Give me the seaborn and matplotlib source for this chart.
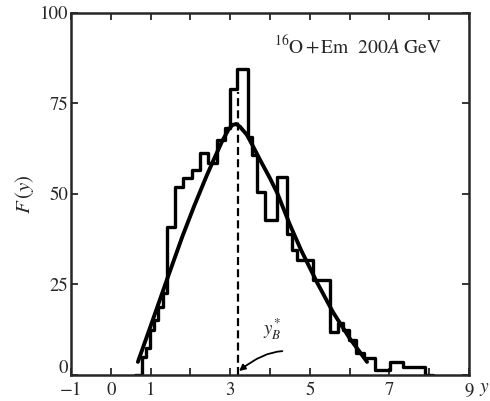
import numpy as np
import matplotlib
matplotlib.use('Agg')
from matplotlib import pyplot as plt
from matplotlib.transforms import ScaledTranslation
import seaborn as sns

# histogram: bin edges (rapidity y) and heights F(y)
hist_edges = [0.60, 0.78, 0.88, 0.98, 1.09, 1.19, 1.31, 1.41, 1.61, 1.81, 2.04,
              2.24, 2.44, 2.67, 2.87, 2.99, 3.18, 3.45, 3.55, 3.67, 3.87, 4.18,
              4.43, 4.55, 4.68, 5.08, 5.51, 5.71, 5.83, 5.98, 6.16, 6.36, 6.64,
              7.01, 7.34, 7.89, 8.10]
hist_heights = [0, 5.0, 7.5, 12.4, 15.2, 18.8, 22.7, 40.9, 51.9, 54.4, 56.6,
                61.3, 58.6, 64.9, 68.2, 79.0, 84.5, 65.7, 60.8, 50.6, 42.8, 54.7,
                39.0, 34.5, 31.8, 26.2, 11.9, 14.4, 12.4, 9.7, 6.1, 4.7, 1.4,
                3.6, 2.2, 0]

# fitted curve, points
curve_x = [0.68, 1.00, 1.40, 1.80, 2.10, 2.40, 2.60, 2.80, 2.95, 3.05, 3.15,
           3.25, 3.42, 3.60, 3.75, 4.00, 4.18, 4.50, 4.78, 5.18, 5.58, 6.01, 6.44]
curve_y = [3.6, 13.5, 26.0, 38.3, 46.8, 54.8, 59.8, 64.6, 67.6, 69.0, 69.3,
           68.5, 66.3, 62.6, 59.4, 54.3, 50.3, 41.5, 34.5, 25.6, 17.4, 10.0, 3.6]

yb_star = 3.2      # beam rapidity marker
dash_top = 78

x_ticks = list(range(-1, 10))
x_ticklabels = ['\u22121', '0', '1', '', '3', '', '5', '', '7', '', '9']
y_ticks = [0, 25, 50, 75, 100]

sns.set_style('ticks')
plt.rcParams['font.family'] = ['STIXGeneral', 'DejaVu Serif']
plt.rcParams['mathtext.fontset'] = 'stix'

fig = plt.figure(figsize=(4.9, 4.01), dpi=100)
ax = fig.add_axes([0.145, 0.065, 0.812, 0.903])

centers = 0.5 * (np.array(hist_edges[:-1]) + np.array(hist_edges[1:]))
sns.histplot(x=centers, weights=hist_heights, bins=hist_edges, element='step',
             fill=False, color='black', linewidth=2.4, ax=ax)
sns.lineplot(x=curve_x, y=curve_y, color='black', linewidth=2.8, sort=False, ax=ax)
ax.vlines(yb_star, 0, dash_top, colors='black', linewidth=1.6,
          linestyles=(0, (3.6, 1.9)))

ax.set_xlim(-1, 9)
ax.set_ylim(0, 100)
ax.set_xticks(x_ticks)
ax.set_xticklabels(x_ticklabels)
ax.set_yticks(y_ticks)
ax.tick_params(direction='in', top=True, right=True, length=5, width=1.3,
               labelsize=13.5)
ax.tick_params(axis='x', pad=5)
ax.tick_params(axis='y', pad=2)
for s in ax.spines.values():
    s.set_linewidth(1.8)

# the "0" on the y axis sits a little above the axis line in the original
zero_lab = ax.get_yticklabels()[0]
zero_lab.set_transform(zero_lab.get_transform() +
                       ScaledTranslation(0, 6 / 72, fig.dpi_scale_trans))

ax.set_xlabel('')
ax.set_ylabel(r'$F\,(y)$', fontsize=15, labelpad=3)
ax.text(1.04, -0.04, r'$y$', transform=ax.transAxes, fontsize=14,
        ha='center', va='center')

ax.text(4.1, 91, r'$^{16}$O$\,$+$\,$Em  200$A$ GeV', fontsize=14,
        ha='left', va='center')

ax.annotate('', xy=(yb_star - 0.03, 0.6), xytext=(4.38, 6.6),
            arrowprops=dict(arrowstyle='-|>', color='black', lw=1.3,
                            mutation_scale=9,
                            connectionstyle='angle3,angleA=0,angleB=40'))
ax.text(4.05, 12.6, r'$y_B^{*}$', fontsize=13.5, ha='center', va='center')

fig.savefig('out.png', dpi=100)
